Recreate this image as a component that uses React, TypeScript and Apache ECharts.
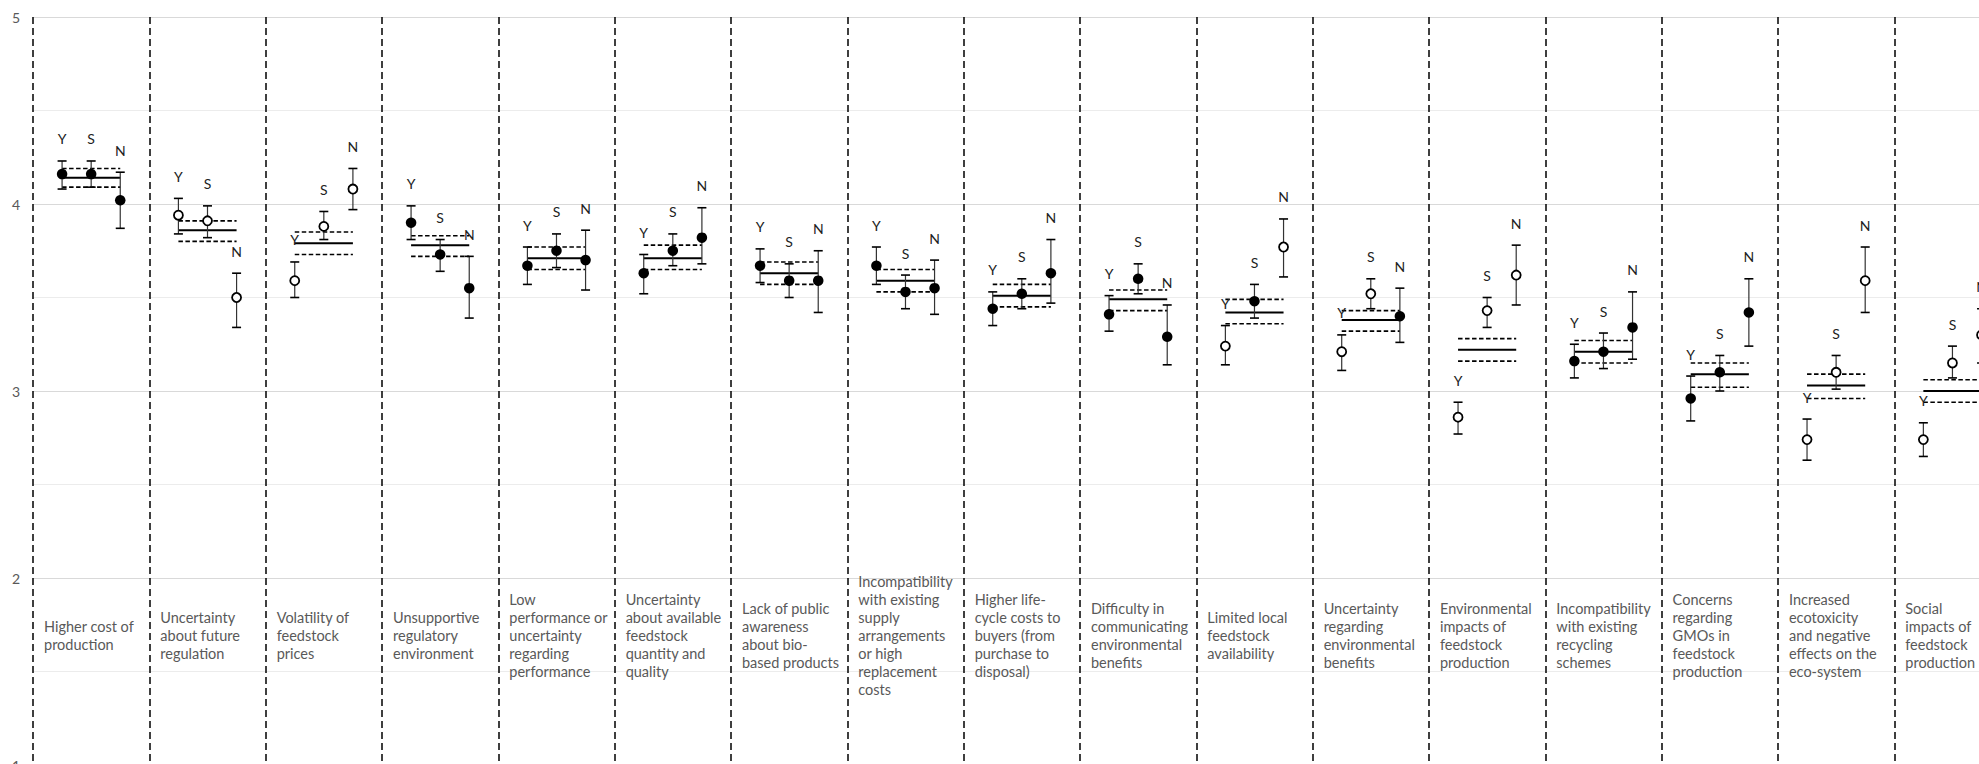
import React, { useEffect, useRef } from "react";
import * as echarts from "echarts";

// ---- data ----
const categories = [
  "Higher cost of\nproduction",
  "Uncertainty\nabout future\nregulation",
  "Volatility of\nfeedstock\nprices",
  "Unsupportive\nregulatory\nenvironment",
  "Low\nperformance or\nuncertainty\nregarding\nperformance",
  "Uncertainty\nabout available\nfeedstock\nquantity and\nquality",
  "Lack of public\nawareness\nabout bio-\nbased products",
  "Incompatibility\nwith existing\nsupply\narrangements\nor high\nreplacement\ncosts",
  "Higher life-\ncycle costs to\nbuyers (from\npurchase to\ndisposal)",
  "Difficulty in\ncommunicating\nenvironmental\nbenefits",
  "Limited local\nfeedstock\navailability",
  "Uncertainty\nregarding\nenvironmental\nbenefits",
  "Environmental\nimpacts of\nfeedstock\nproduction",
  "Incompatibility\nwith existing\nrecycling\nschemes",
  "Concerns\nregarding\nGMOs in\nfeedstock\nproduction",
  "Increased\necotoxicity\nand negative\neffects on the\neco-system",
  "Social\nimpacts of\nfeedstock\nproduction",
];

const groupLetters = ["Y", "S", "N"];

const yMean = [4.16, 3.94, 3.59, 3.90, 3.67, 3.63, 3.67, 3.67, 3.44, 3.41, 3.24, 3.21, 2.86, 3.16, 2.96, 2.74, 2.74];
const yLow = [4.08, 3.84, 3.50, 3.81, 3.57, 3.52, 3.58, 3.57, 3.35, 3.32, 3.14, 3.11, 2.77, 3.07, 2.84, 2.63, 2.65];
const yHigh = [4.23, 4.03, 3.69, 3.99, 3.77, 3.73, 3.76, 3.77, 3.53, 3.51, 3.35, 3.30, 2.94, 3.25, 3.08, 2.85, 2.83];

const sMean = [4.16, 3.91, 3.88, 3.73, 3.75, 3.75, 3.59, 3.53, 3.52, 3.60, 3.48, 3.52, 3.43, 3.21, 3.10, 3.10, 3.15];
const sLow = [4.09, 3.82, 3.81, 3.64, 3.66, 3.67, 3.50, 3.44, 3.44, 3.52, 3.39, 3.44, 3.34, 3.12, 3.00, 3.01, 3.07];
const sHigh = [4.23, 3.99, 3.96, 3.81, 3.84, 3.84, 3.68, 3.62, 3.60, 3.68, 3.57, 3.60, 3.50, 3.31, 3.19, 3.19, 3.24];

const nMean = [4.02, 3.50, 4.08, 3.55, 3.70, 3.82, 3.59, 3.55, 3.63, 3.29, 3.77, 3.40, 3.62, 3.34, 3.42, 3.59, 3.30];
const nLow = [3.87, 3.34, 3.97, 3.39, 3.54, 3.68, 3.42, 3.41, 3.47, 3.14, 3.61, 3.26, 3.46, 3.17, 3.24, 3.42, 3.15];
const nHigh = [4.17, 3.63, 4.19, 3.72, 3.86, 3.98, 3.75, 3.70, 3.81, 3.46, 3.92, 3.55, 3.78, 3.53, 3.60, 3.77, 3.44];

// 1 = significant (filled marker), 0 = open marker
const yFilled = [1, 0, 0, 1, 1, 1, 1, 1, 1, 1, 0, 0, 0, 1, 1, 0, 0];
const sFilled = [1, 0, 0, 1, 1, 1, 1, 1, 1, 1, 1, 0, 0, 1, 1, 0, 0];
const nFilled = [1, 0, 0, 1, 1, 1, 1, 1, 1, 1, 0, 1, 0, 1, 1, 0, 0];

const overallMean = [4.14, 3.86, 3.79, 3.78, 3.71, 3.71, 3.63, 3.59, 3.51, 3.49, 3.42, 3.38, 3.22, 3.21, 3.09, 3.03, 3.00];
const overallHigh = [4.19, 3.91, 3.85, 3.83, 3.77, 3.78, 3.69, 3.65, 3.57, 3.54, 3.49, 3.43, 3.28, 3.27, 3.15, 3.09, 3.06];
const overallLow = [4.09, 3.80, 3.73, 3.72, 3.65, 3.65, 3.57, 3.53, 3.45, 3.43, 3.36, 3.32, 3.16, 3.15, 3.02, 2.96, 2.94];

const yTicks = [1, 2, 3, 4, 5];
const labelLevel = 1.695;

// ---- build series data ----
const groupOffsets = [0.25, 0.5, 0.75];
const groups = [
  { mean: yMean, low: yLow, high: yHigh, filled: yFilled },
  { mean: sMean, low: sLow, high: sHigh, filled: sFilled },
  { mean: nMean, low: nLow, high: nHigh, filled: nFilled },
];
const N = categories.length;

const errorData: number[][] = [];
const filledPts: number[][] = [];
const openPts: number[][] = [];
groups.forEach((g, gi) => {
  for (let i = 0; i < N; i++) {
    const x = i + groupOffsets[gi];
    errorData.push([x, g.low[i], g.high[i]]);
    if (g.filled[i]) filledPts.push([x, g.mean[i]]);
    else openPts.push([x, g.mean[i]]);
  }
});
const overallData = categories.map((_, i) => [i, overallMean[i], overallLow[i], overallHigh[i]]);
const labelData = categories.map((_, i) => [i, labelLevel]);

const FONT = "Lato, 'Open Sans', sans-serif";

export default function App() {
  const ref = useRef<HTMLDivElement>(null);
  useEffect(() => {
    if (!ref.current) return;
    const chart = echarts.init(ref.current, null, { renderer: "svg" });
    const catWidth = 116.33;
    chart.setOption({
      animation: false,
      backgroundColor: "#ffffff",
      grid: {
        left: 33,
        top: 17,
        width: catWidth * N,
        height: 748,
        containLabel: false,
        outerBoundsMode: "none",
      },
      xAxis: {
        type: "value",
        min: 0,
        max: N,
        interval: 1,
        axisLine: { show: false },
        axisTick: { show: false },
        axisLabel: { show: false },
        splitLine: { show: true, lineStyle: { color: "#000", width: 1.5, type: [7, 4] } },
      },
      yAxis: {
        type: "value",
        min: yTicks[0],
        max: yTicks[yTicks.length - 1],
        interval: 1,
        axisLine: { show: false },
        axisTick: { show: false },
        axisLabel: { color: "#595959", fontFamily: FONT, fontSize: 14, margin: 13 },
        splitLine: { show: true, lineStyle: { color: "#d9d9d9", width: 1 } },
        minorTick: { show: false, splitNumber: 2 },
        minorSplitLine: { show: true, lineStyle: { color: "#ececec", width: 1 } },
      },
      series: [
        {
          type: "custom",
          name: "overall",
          silent: true,
          z: 2,
          encode: { x: 0, y: [1, 2, 3] },
          data: overallData,
          renderItem: (params: any, api: any) => {
            const i = api.value(0);
            const m = api.value(1), lo = api.value(2), hi = api.value(3);
            const a = api.coord([i + 0.25, m]);
            const b = api.coord([i + 0.75, m]);
            const ah = api.coord([i + 0.25, hi]);
            const bh = api.coord([i + 0.75, hi]);
            const al = api.coord([i + 0.25, lo]);
            const bl = api.coord([i + 0.75, lo]);
            const dash = { stroke: "#000", lineWidth: 1.6, lineDash: [4.5, 2.5] };
            return {
              type: "group",
              children: [
                { type: "line", shape: { x1: a[0], y1: a[1], x2: b[0], y2: b[1] }, style: { stroke: "#000", lineWidth: 2 } },
                { type: "line", shape: { x1: ah[0], y1: ah[1], x2: bh[0], y2: bh[1] }, style: dash },
                { type: "line", shape: { x1: al[0], y1: al[1], x2: bl[0], y2: bl[1] }, style: dash },
              ],
            };
          },
        },
        {
          type: "custom",
          name: "errors",
          silent: true,
          z: 3,
          encode: { x: 0, y: [1, 2] },
          data: errorData,
          renderItem: (params: any, api: any) => {
            const x = api.value(0), lo = api.value(1), hi = api.value(2);
            const t = api.coord([x, hi]);
            const b = api.coord([x, lo]);
            const cap = 4.5;
            const letter = groupLetters[Math.floor(params.dataIndex / N)];
            return {
              type: "group",
              children: [
                { type: "line", shape: { x1: t[0], y1: t[1], x2: b[0], y2: b[1] }, style: { stroke: "#333", lineWidth: 1.2 } },
                { type: "line", shape: { x1: t[0] - cap, y1: t[1], x2: t[0] + cap, y2: t[1] }, style: { stroke: "#000", lineWidth: 1.6 } },
                { type: "line", shape: { x1: b[0] - cap, y1: b[1], x2: b[0] + cap, y2: b[1] }, style: { stroke: "#000", lineWidth: 1.6 } },
                {
                  type: "text",
                  x: t[0],
                  y: t[1] - 22,
                  style: { text: letter, align: "center", verticalAlign: "middle", fontFamily: FONT, fontSize: 14, fill: "#222" },
                },
              ],
            };
          },
        },
        {
          type: "scatter",
          name: "filled",
          silent: true,
          z: 4,
          symbol: "circle",
          symbolSize: 10.5,
          itemStyle: { color: "#000", opacity: 1 },
          data: filledPts,
        },
        {
          type: "scatter",
          name: "open",
          silent: true,
          z: 4,
          symbol: "circle",
          symbolSize: 9,
          itemStyle: { color: "#fff", borderColor: "#000", borderWidth: 1.8, opacity: 1 },
          data: openPts,
        },
        {
          type: "custom",
          name: "labels",
          silent: true,
          z: 5,
          encode: { x: 0, y: 1 },
          data: labelData,
          renderItem: (params: any, api: any) => {
            const p = api.coord([api.value(0), api.value(1)]);
            return {
              type: "text",
              x: p[0] + 11,
              y: p[1],
              style: {
                text: categories[params.dataIndex],
                align: "left",
                verticalAlign: "middle",
                fontFamily: FONT,
                fontSize: 14.5,
                lineHeight: 18,
                fill: "#595959",
              },
            };
          },
        },
      ],
    });
    return () => chart.dispose();
  }, []);
  return (
    <div
      ref={ref}
      style={{ position: "absolute", left: 0, top: 0, width: 1979, height: 764, background: "#fff" }}
    />
  );
}
